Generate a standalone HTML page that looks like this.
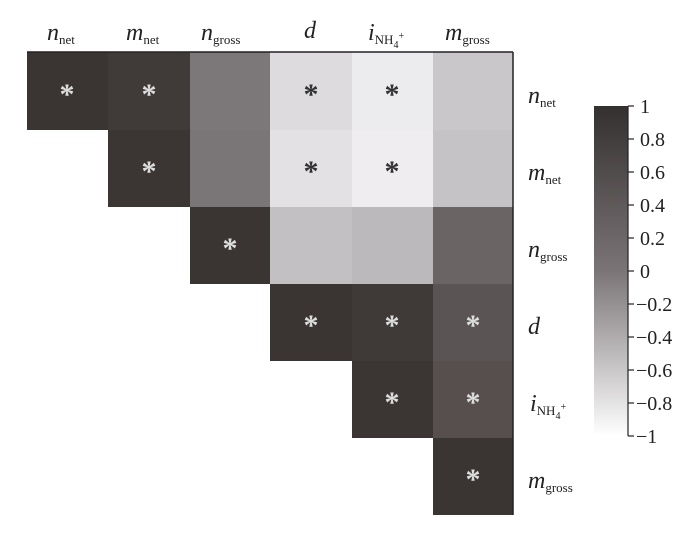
<!DOCTYPE html>
<html><head><meta charset="utf-8"><style>body{margin:0;background:#fff}svg{display:block}text{font-family:"Liberation Serif",serif;fill:#222}</style></head>
<body>
<svg width="700" height="533" viewBox="0 0 700 533">
<defs><linearGradient id="g" x1="0" y1="0" x2="0" y2="1">
<stop offset="0" stop-color="#353030"/><stop offset="0.5" stop-color="#7a7476"/><stop offset="1" stop-color="#ffffff"/></linearGradient></defs>
<g>
<rect x="27" y="52" width="81" height="78" fill="#3a3432"/>
<rect x="108" y="52" width="82" height="78" fill="#403a38"/>
<rect x="190" y="52" width="80" height="78" fill="#7c7778"/>
<rect x="270" y="52" width="82" height="78" fill="#dddbde"/>
<rect x="352" y="52" width="81" height="78" fill="#ecebed"/>
<rect x="433" y="52" width="80" height="78" fill="#c9c7ca"/>
<rect x="108" y="130" width="82" height="77" fill="#3b3533"/>
<rect x="190" y="130" width="80" height="77" fill="#7a7576"/>
<rect x="270" y="130" width="82" height="77" fill="#e3e1e3"/>
<rect x="352" y="130" width="81" height="77" fill="#efedef"/>
<rect x="433" y="130" width="80" height="77" fill="#c5c3c6"/>
<rect x="190" y="207" width="80" height="77" fill="#3a3432"/>
<rect x="270" y="207" width="82" height="77" fill="#c2c0c3"/>
<rect x="352" y="207" width="81" height="77" fill="#bbb9bc"/>
<rect x="433" y="207" width="80" height="77" fill="#6b6465"/>
<rect x="270" y="284" width="82" height="77" fill="#3a3432"/>
<rect x="352" y="284" width="81" height="77" fill="#3f3937"/>
<rect x="433" y="284" width="80" height="77" fill="#5b5454"/>
<rect x="352" y="361" width="81" height="77" fill="#3b3533"/>
<rect x="433" y="361" width="80" height="77" fill="#564f4e"/>
<rect x="433" y="438" width="80" height="77" fill="#3a3432"/>
</g>
<line x1="27" y1="52" x2="513" y2="52" stroke="#222" stroke-width="1.5"/>
<line x1="513" y1="52" x2="513" y2="515" stroke="#222" stroke-width="1.5"/>
<g font-size="30" font-weight="bold" text-anchor="middle" font-family="Liberation Sans">
<text x="67" y="104" style="fill:#ddd">*</text>
<text x="149" y="104" style="fill:#ddd">*</text>
<text x="311" y="104" style="fill:#333">*</text>
<text x="392" y="104" style="fill:#333">*</text>
<text x="149" y="181" style="fill:#ddd">*</text>
<text x="311" y="181" style="fill:#333">*</text>
<text x="392" y="181" style="fill:#333">*</text>
<text x="230" y="258" style="fill:#ddd">*</text>
<text x="311" y="335" style="fill:#ddd">*</text>
<text x="392" y="335" style="fill:#ddd">*</text>
<text x="473" y="335" style="fill:#ddd">*</text>
<text x="392" y="412" style="fill:#ddd">*</text>
<text x="473" y="412" style="fill:#ddd">*</text>
<text x="473" y="489" style="fill:#ddd">*</text>
</g>
<g font-size="24" font-style="italic">
<text x="47" y="40">n<tspan font-size="13" font-style="normal" dy="4">net</tspan></text>
<text x="126" y="40">m<tspan font-size="13" font-style="normal" dy="4">net</tspan></text>
<text x="201" y="40">n<tspan font-size="13" font-style="normal" dy="4">gross</tspan></text>
<text x="304" y="38">d</text>
<text x="368" y="40">i<tspan font-size="13" font-style="normal" dy="4">NH</tspan><tspan font-size="10" font-style="normal" dy="4">4</tspan><tspan font-size="10" font-style="normal" dy="-9">+</tspan></text>
<text x="445" y="40">m<tspan font-size="13" font-style="normal" dy="4">gross</tspan></text>
<text x="528" y="103">n<tspan font-size="13" font-style="normal" dy="4">net</tspan></text>
<text x="528" y="180">m<tspan font-size="13" font-style="normal" dy="4">net</tspan></text>
<text x="528" y="257">n<tspan font-size="13" font-style="normal" dy="4">gross</tspan></text>
<text x="528" y="334">d</text>
<text x="530" y="411">i<tspan font-size="13" font-style="normal" dy="4">NH</tspan><tspan font-size="10" font-style="normal" dy="4">4</tspan><tspan font-size="10" font-style="normal" dy="-9">+</tspan></text>
<text x="528" y="488">m<tspan font-size="13" font-style="normal" dy="4">gross</tspan></text>
</g>
<rect x="594" y="106" width="34" height="330" fill="url(#g)"/>
<line x1="628" y1="106" x2="628" y2="436" stroke="#222" stroke-width="1.2"/>
<g stroke="#222" stroke-width="1.2">
<line x1="628" y1="106" x2="634" y2="106"/><line x1="628" y1="139" x2="634" y2="139"/><line x1="628" y1="172" x2="634" y2="172"/><line x1="628" y1="205" x2="634" y2="205"/><line x1="628" y1="238" x2="634" y2="238"/><line x1="628" y1="271" x2="634" y2="271"/><line x1="628" y1="304" x2="634" y2="304"/><line x1="628" y1="337" x2="634" y2="337"/><line x1="628" y1="370" x2="634" y2="370"/><line x1="628" y1="403" x2="634" y2="403"/><line x1="628" y1="436" x2="634" y2="436"/>
</g>
<g font-size="20">
<text x="640" y="113">1</text><text x="640" y="146">0.8</text><text x="640" y="179">0.6</text><text x="640" y="212">0.4</text><text x="640" y="245">0.2</text><text x="640" y="278">0</text><text x="636" y="311">−0.2</text><text x="636" y="344">−0.4</text><text x="636" y="377">−0.6</text><text x="636" y="410">−0.8</text><text x="636" y="443">−1</text>
</g>
</svg>
</body></html>
